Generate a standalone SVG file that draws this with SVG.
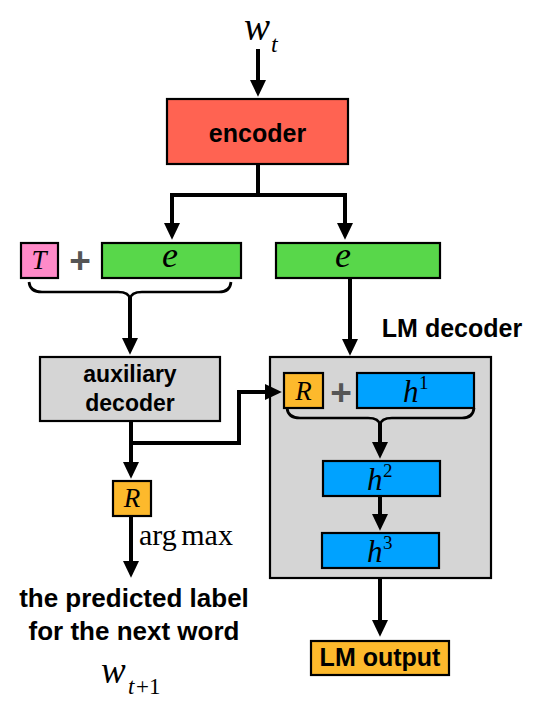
<svg xmlns="http://www.w3.org/2000/svg" width="536" height="712" viewBox="0 0 536 712">
<style>
.box{stroke:#000;stroke-width:2.2}
.lbl{font-family:"Liberation Sans",Arial,sans-serif;font-weight:bold;fill:#000}
.math{font-family:"Liberation Serif","Times New Roman",serif;font-style:italic;fill:#000}
.rm{font-family:"Liberation Serif","Times New Roman",serif;fill:#000}
.plus{font-family:"Liberation Sans",Arial,sans-serif;font-weight:bold;fill:#555}
.ln{fill:none;stroke:#000;stroke-width:4}
.br{fill:none;stroke:#000;stroke-width:2.7}
</style>
<defs>
<marker id="ah" markerWidth="4.2" markerHeight="4" refX="3" refY="2" orient="auto" markerUnits="strokeWidth">
<path d="M0,0 L4.2,2 L0,4 Z" fill="#000"/>
</marker>
</defs>
<rect width="536" height="712" fill="#fff"/>
<g id="wt">
<text class="math" x="244" y="40" font-size="39">w</text>
<text class="math" x="271" y="52" font-size="24">t</text>
</g>
<g id="encoder">
<rect class="box" x="167" y="99" width="181" height="65" fill="#FF6352"/>
<text class="lbl" x="257.5" y="142" font-size="25" text-anchor="middle">encoder</text>
</g>
<g id="T">
<rect class="box" x="21" y="243" width="37" height="35" fill="#FF8AC8"/>
<text class="math" x="39" y="269" font-size="27" text-anchor="middle">T</text>
</g>
<text class="plus" x="80" y="273" font-size="37" text-anchor="middle">+</text>
<g id="e1">
<rect class="box" x="102" y="243" width="139" height="35" fill="#58D74A"/>
<text class="math" x="170" y="267" font-size="36" text-anchor="middle">e</text>
</g>
<g id="e2">
<rect class="box" x="276" y="243" width="164" height="35" fill="#58D74A"/>
<text class="math" x="343" y="267" font-size="36" text-anchor="middle">e</text>
</g>
<g id="aux">
<rect class="box" x="40" y="357" width="180" height="64" fill="#D5D5D5"/>
<text class="lbl" x="130" y="382" font-size="23" text-anchor="middle">auxiliary</text>
<text class="lbl" x="130" y="411" font-size="23" text-anchor="middle">decoder</text>
</g>
<g id="lmdec">
<text class="lbl" x="452" y="337" font-size="25" text-anchor="middle">LM decoder</text>
<rect class="box" x="270" y="357" width="221" height="221" fill="#D5D5D5"/>
</g>
<g id="R1">
<rect class="box" x="284" y="373" width="39" height="35" fill="#FDB92C"/>
<text class="math" x="303.5" y="400" font-size="27" text-anchor="middle">R</text>
</g>
<text class="plus" x="341" y="405" font-size="37" text-anchor="middle">+</text>
<g id="h1">
<rect class="box" x="357" y="373" width="117" height="35" fill="#00A2FF"/>
<text class="math" x="403" y="402" font-size="31">h</text>
<text class="rm" x="419" y="389" font-size="19">1</text>
</g>
<g id="h2">
<rect class="box" x="323" y="461" width="117" height="35" fill="#00A2FF"/>
<text class="math" x="367" y="490" font-size="31">h</text>
<text class="rm" x="383" y="477" font-size="19">2</text>
</g>
<g id="h3">
<rect class="box" x="322" y="533" width="117" height="35" fill="#00A2FF"/>
<text class="math" x="367" y="562" font-size="31">h</text>
<text class="rm" x="383" y="549" font-size="19">3</text>
</g>
<g id="R2">
<rect class="box" x="113" y="481" width="38" height="35" fill="#FDB92C"/>
<text class="math" x="132" y="507" font-size="27" text-anchor="middle">R</text>
</g>
<text class="rm" x="139" y="545" font-size="30" word-spacing="-3">arg max</text>
<g id="pred">
<text class="lbl" x="134" y="607" font-size="26" text-anchor="middle">the predicted label</text>
<text class="lbl" x="134" y="640" font-size="26" text-anchor="middle">for the next word</text>
</g>
<g id="wt1">
<text class="math" x="101" y="683" font-size="37">w</text>
<text class="math" x="128" y="694" font-size="23">t</text>
<text class="rm" x="136" y="694" font-size="23">+1</text>
</g>
<g id="lmout">
<rect class="box" x="311" y="641" width="138" height="34" fill="#FDB92C"/>
<text class="lbl" x="380" y="666" font-size="25" text-anchor="middle">LM output</text>
</g>
<g id="connectors">
<path class="ln" d="M258,49 V92" marker-end="url(#ah)"/>
<path class="ln" d="M258,164 V195 M170,195 H347"/>
<path class="ln" d="M172,193 V235" marker-end="url(#ah)"/>
<path class="ln" d="M345,193 V235" marker-end="url(#ah)"/>
<path class="br" d="M29,282 Q30,292 42,292 H118 Q129,292 130,299 Q131,292 142,292 H219 Q230,292 231,282"/>
<path class="ln" d="M130,297 V350" marker-end="url(#ah)"/>
<path class="ln" d="M350,278 V351" marker-end="url(#ah)"/>
<path class="ln" d="M131,421 V474" marker-end="url(#ah)"/>
<path class="ln" d="M131,443 H239 V392 H277" marker-end="url(#ah)"/>
<path class="br" d="M287,408 Q288,418 300,418 H368 Q379,418 380,425 Q381,418 392,418 H462 Q473,418 474,408"/>
<path class="ln" d="M380,423 V454" marker-end="url(#ah)"/>
<path class="ln" d="M380,496 V526" marker-end="url(#ah)"/>
<path class="ln" d="M131,516 V573" marker-end="url(#ah)"/>
<path class="ln" d="M380,578 V632" marker-end="url(#ah)"/>
</g>
</svg>
